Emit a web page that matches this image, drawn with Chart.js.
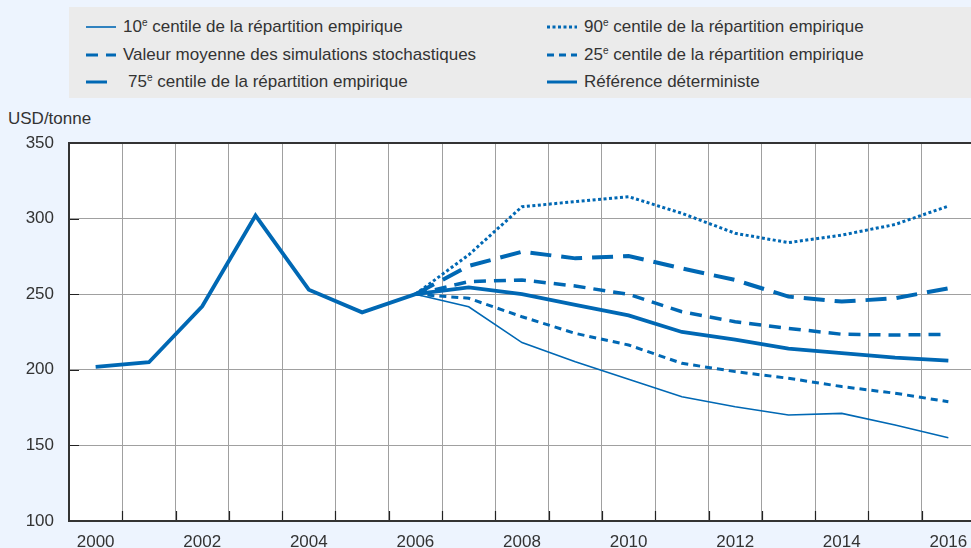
<!DOCTYPE html>
<html>
<head>
<meta charset="utf-8">
<script src="https://cdn.jsdelivr.net/npm/chart.js@4"></script>
<style>
  html, body { margin: 0; padding: 0; overflow: hidden; }
  body { width: 971px; height: 548px; background: #EDF4FE; position: relative;
         font-family: "Liberation Sans Narrow", "Arial Narrow", "Liberation Sans", sans-serif; color: #333; }
  #legende { position: absolute; left: 69px; top: 7px; width: 902px; height: 91px; background: #EBEBEB; }
  .item { position: absolute; height: 20px; font-size: 17px; line-height: 20px; white-space: nowrap; }
  .item svg { position: absolute; left: 0; top: 5px; }
  .item span { position: absolute; top: 0; }
  .item sup { font-size: 10px; vertical-align: 0; position: relative; top: -6px; }
  #unite { position: absolute; left: 8px; top: 109px; font-size: 17px; }
  #zone { position: absolute; left: 0; top: 100px; width: 980px; height: 448px; }
</style>
</head>
<body>
<div id="legende"></div>
<div id="unite">USD/tonne</div>
<div id="zone"><canvas id="grafico" width="980" height="448"></canvas></div>
<script>
// DADOS DO GRÁFICO
var anos = ['2000', '2001', '2002', '2003', '2004', '2005', '2006', '2007', '2008',
  '2009', '2010', '2011', '2012', '2013', '2014', '2015', '2016'];

// Referência determinista (inclui o histórico 2000-2006)
var referencia = [202, 205, 242, 302, 253, 238, 250, 254.5, 250, 243, 236, 225, 220, 214, 211, 208, 206];
// projeções começam em 2006
var centil10 = [null, null, null, null, null, null, 250, 241.7, 218, 205.4, 193.7, 182.2, 175.6, 170.1, 171.2, 163.5, 155.1];
var centil25 = [null, null, null, null, null, null, 250, 247.3, 235.1, 224.1, 216.4, 204.3, 198.8, 194.4, 188.9, 184.5, 178.9];
var mediaSimulacoes = [null, null, null, null, null, null, 250, 258.3, 259.4, 255.4, 249.9, 238.4, 231.8, 227.4, 223.5, 223, 223.5];
var centil75 = [null, null, null, null, null, null, 250, 268.7, 278.1, 273.7, 275.3, 267.1, 259.4, 248.4, 245.1, 247.3, 253.9];
var centil90 = [null, null, null, null, null, null, 250, 276, 307.9, 311.2, 314.5, 303.5, 290.3, 284.1, 289.1, 296.1, 308.3];

var yTicks = [100, 150, 200, 250, 300, 350];

var AZUL = '#0068B4';

// series: rótulo, dados, espessura, tracejado
var series = [
  { nome: '10<sup>e</sup> centile de la répartition empirique', dados: centil10, largura: 1.6, traco: [] },
  { nome: 'Valeur moyenne des simulations stochastiques', dados: mediaSimulacoes, largura: 3.5, traco: [12, 8] },
  { nome: '75<sup>e</sup> centile de la répartition empirique', dados: centil75, largura: 4, traco: [21, 10] },
  { nome: '90<sup>e</sup> centile de la répartition empirique', dados: centil90, largura: 3, traco: [3, 2.5] },
  { nome: '25<sup>e</sup> centile de la répartition empirique', dados: centil25, largura: 3, traco: [7, 5] },
  { nome: 'Référence déterministe', dados: referencia, largura: 3.8, traco: [] }
];

// LEGENDA EM HTML (duas colunas)
var legenda = document.getElementById('legende');
series.forEach(function (s, i) {
  var col = i < 3 ? 0 : 1;
  var lin = i % 3;
  var div = document.createElement('div');
  div.className = 'item';
  div.style.left = (col == 0 ? 17 : 478) + 'px';
  div.style.top = (10 + lin * 27.5) + 'px';
  var amostra = s.traco.length ? s.traco.join(',') : 'none';
  var x2 = 30;
  if (i == 2) x2 = 21;
  div.innerHTML = '<svg width="32" height="10"><line x1="0" y1="5" x2="' + x2 + '" y2="5" stroke="' + AZUL +
    '" stroke-width="' + Math.min(s.largura, 3) + '" stroke-dasharray="' + amostra + '"/></svg>' +
    '<span style="left:' + (i == 2 ? 42 : 37) + 'px">' + s.nome + '</span>';
  legenda.appendChild(div);
});

// pequenas marcas internas e moldura
var moldura = {
  id: 'moldura',
  afterDraw: function (chart) {
    var ctx = chart.ctx;
    var a = chart.chartArea;
    var x = chart.scales.x;
    var y = chart.scales.y;
    ctx.save();
    ctx.strokeStyle = '#222';
    ctx.lineWidth = 1.2;
    ctx.beginPath();
    for (var i = 0; i < yTicks.length; i++) {
      var py = Math.round(y.getPixelForValue(yTicks[i])) + 0.5;
      ctx.moveTo(a.left, py);
      ctx.lineTo(a.left + 10, py);
    }
    for (var j = 1; j < anos.length; j++) {
      var px = Math.round((x.getPixelForValue(j - 1) + x.getPixelForValue(j)) / 2) + 0.5;
      ctx.moveTo(px, a.bottom);
      ctx.lineTo(px, a.bottom - 10);
    }
    ctx.stroke();
    ctx.lineWidth = 2;
    ctx.strokeStyle = '#333';
    ctx.strokeRect(a.left, a.top, a.right - a.left + 5, a.bottom - a.top);
    ctx.restore();
  }
};

var fundoBranco = {
  id: 'fundoBranco',
  beforeDraw: function (chart) {
    var a = chart.chartArea;
    chart.ctx.save();
    chart.ctx.fillStyle = '#FFFFFF';
    chart.ctx.fillRect(a.left, a.top, a.right - a.left, a.bottom - a.top);
    chart.ctx.restore();
  }
};

var datasets = series.map(function (s) {
  return {
    label: s.nome,
    data: s.dados,
    borderColor: AZUL,
    backgroundColor: AZUL,
    borderWidth: s.largura,
    borderDash: s.traco,
    pointRadius: 0,
    fill: false,
    tension: 0,
    spanGaps: false
  };
});
// referência desenhada por cima
datasets.unshift(datasets.pop());

var config = {
  type: 'line',
  data: { labels: anos, datasets: datasets },
  options: {
    responsive: false,
    animation: false,
    devicePixelRatio: 1,
    layout: { padding: { top: 43, right: 5, left: 0, bottom: 0 } },
    plugins: { legend: { display: false }, tooltip: { enabled: false } },
    scales: {
      x: {
        offset: true,
        grid: { offset: true, color: '#A0A0A0', lineWidth: 1, drawTicks: false },
        border: { display: false },
        ticks: {
          autoSkip: false,
          maxRotation: 0,
          padding: 11,
          color: '#333',
          font: { family: '"Liberation Sans Narrow", "Arial Narrow", sans-serif', size: 17 },
          callback: function (v, i) { return i % 2 == 0 ? anos[i] : ''; }
        },
        afterFit: function (scale) { scale.height = 27; }
      },
      y: {
        min: 100,
        max: 350,
        afterBuildTicks: function (scale) { scale.ticks = yTicks.map(function (v) { return { value: v }; }); },
        grid: { color: '#A0A0A0', lineWidth: 1, drawTicks: false },
        border: { display: false },
        ticks: {
          padding: 15,
          color: '#333',
          font: { family: '"Liberation Sans Narrow", "Arial Narrow", sans-serif', size: 17 }
        },
        afterFit: function (scale) { scale.width = 69; }
      }
    }
  },
  plugins: [fundoBranco, moldura]
};

var meuGrafico = new Chart(document.getElementById('grafico'), config);
</script>
</body>
</html>
